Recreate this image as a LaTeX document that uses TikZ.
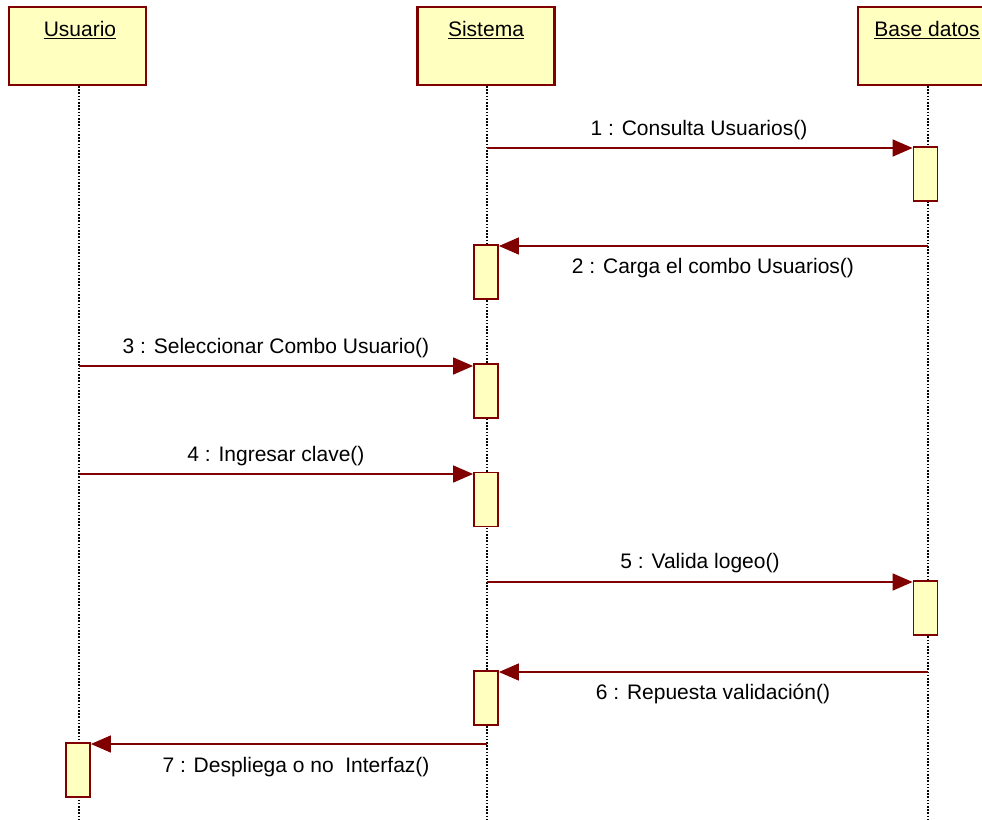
\documentclass[tikz,border=0pt]{standalone}
\usepackage{fontspec}
\setmainfont{Liberation Sans}
\usetikzlibrary{arrows.meta}
\definecolor{umlred}{HTML}{800000}
\definecolor{umlfill}{HTML}{FFFFC0}
\tikzset{
  hdr/.style={draw=umlred, fill=umlfill, line width=2.2pt, minimum width=137pt, minimum height=78pt, inner sep=0pt},
  act/.style={draw=umlred, fill=umlfill, line width=1.8pt, minimum width=24pt, minimum height=54pt, inner sep=0pt},
  life/.style={black, line width=1.2pt, dash pattern=on 1.6pt off 1.6pt},
  msg/.style={umlred, line width=1.6pt, -{Triangle[length=20pt,width=17pt]}},
  lbl/.style={font=\fontsize{21}{25}\selectfont, inner sep=0pt},
  ttl/.style={font=\fontsize{21}{25}\selectfont, inner sep=0pt}
}
\newcommand{\ul}[1]{\underline{#1}}
\begin{document}
\begin{tikzpicture}[x=1pt,y=-1pt]
\useasboundingbox (0,0) rectangle (982,819);
\clip (0,0) rectangle (982,819);
% headers
\node[hdr] (hu) at (77.5,46) {};
\node[hdr] (hs) at (486,46) {};
\node[hdr] (hb) at (926.5,46) {};
\node[ttl] (tu) at (80,30) {\ul{Usuario}};
\node[ttl] (ts) at (486,30) {\ul{Sistema}};
\node[ttl] (tb) at (927,30) {\ul{Base datos}};
% lifeline ends
\coordinate (eu) at (79,819);
\coordinate (es) at (487,819);
\coordinate (eb) at (928,819);
\draw[life] (79,86) -- (eu);
\draw[life] (487,86) -- (es);
\draw[life] (928,86) -- (eb);
% activations
\node[act] (a1) at (925.5,174) {};
\node[act] (a2) at (486,272) {};
\node[act] (a3) at (486,391) {};
\node[act] (a4) at (486,499.5) {};
\node[act] (a5) at (925.5,608) {};
\node[act] (a6) at (486,698) {};
\node[act] (a7) at (78,770) {};
% message start points
\coordinate (s1) at (487,148);
\coordinate (s2) at (928,246);
\coordinate (s3) at (79,366);
\coordinate (s4) at (79,474);
\coordinate (s5) at (487,582);
\coordinate (s6) at (928,672);
\coordinate (s7) at (487,744);
\draw[msg] (s1) -- (s1 -| a1.west);
\draw[msg] (s2) -- (s2 -| a2.east);
\draw[msg] (s3) -- (s3 -| a3.west);
\draw[msg] (s4) -- (s4 -| a4.west);
\draw[msg] (s5) -- (s5 -| a5.west);
\draw[msg] (s6) -- (s6 -| a6.east);
\draw[msg] (s7) -- (s7 -| a7.east);
% labels
\node[lbl] (l1) at (699,130) {1 : Consulta Usuarios()};
\node[lbl] (l2) at (713,268) {2 : Carga el combo Usuarios()};
\node[lbl] (l3) at (276,348) {3 : Seleccionar Combo Usuario()};
\node[lbl] (l4) at (276,456) {4 : Ingresar clave()};
\node[lbl] (l5) at (700,563) {5 : Valida logeo()};
\node[lbl] (l6) at (713,694) {6 : Repuesta validación()};
\node[lbl] (l7) at (296,767) {7 : Despliega o no\ \ Interfaz()};
\end{tikzpicture}
\end{document}
